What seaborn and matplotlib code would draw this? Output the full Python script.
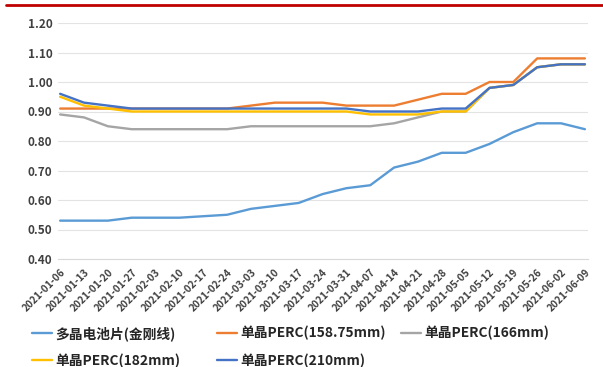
import matplotlib
matplotlib.use("Agg")
import matplotlib.pyplot as plt
from matplotlib.lines import Line2D
import pandas as pd
import seaborn as sns

# Weekly dates
dates = ["2021-01-06", "2021-01-13", "2021-01-20", "2021-01-27", "2021-02-03",
         "2021-02-10", "2021-02-17", "2021-02-24", "2021-03-03", "2021-03-10",
         "2021-03-17", "2021-03-24", "2021-03-31", "2021-04-07", "2021-04-14",
         "2021-04-21", "2021-04-28", "2021-05-05", "2021-05-12", "2021-05-19",
         "2021-05-26", "2021-06-02", "2021-06-09"]

series_names = ["多晶电池片(金刚线)", "单晶PERC(158.75mm)", "单晶PERC(166mm)",
                "单晶PERC(182mm)", "单晶PERC(210mm)"]

poly = [0.53, 0.53, 0.53, 0.54, 0.54, 0.54, 0.545, 0.55, 0.57, 0.58, 0.59, 0.62,
        0.64, 0.65, 0.71, 0.73, 0.76, 0.76, 0.79, 0.83, 0.86, 0.86, 0.84]
perc_158 = [0.91, 0.91, 0.91, 0.91, 0.91, 0.91, 0.91, 0.91, 0.92, 0.93, 0.93, 0.93,
            0.92, 0.92, 0.92, 0.94, 0.96, 0.96, 1.00, 1.00, 1.08, 1.08, 1.08]
perc_166 = [0.89, 0.88, 0.85, 0.84, 0.84, 0.84, 0.84, 0.84, 0.85, 0.85, 0.85, 0.85,
            0.85, 0.85, 0.86, 0.88, 0.90, 0.90, 0.98, 0.99, 1.05, 1.06, 1.06]
perc_182 = [0.95, 0.92, 0.91, 0.90, 0.90, 0.90, 0.90, 0.90, 0.90, 0.90, 0.90, 0.90,
            0.90, 0.89, 0.89, 0.89, 0.90, 0.90, 0.98, 0.99, 1.05, 1.06, 1.06]
perc_210 = [0.96, 0.93, 0.92, 0.91, 0.91, 0.91, 0.91, 0.91, 0.91, 0.91, 0.91, 0.91,
            0.91, 0.90, 0.90, 0.90, 0.91, 0.91, 0.98, 0.99, 1.05, 1.06, 1.06]

colors = ["#5B9BD5", "#ED7D31", "#A5A5A5", "#FFC000", "#4472C4"]
y_ticks = [0.40, 0.50, 0.60, 0.70, 0.80, 0.90, 1.00, 1.10, 1.20]

wide = pd.DataFrame(dict(zip(series_names, [poly, perc_158, perc_166, perc_182, perc_210])))
wide["date"] = dates
long = wide.melt(id_vars="date", var_name="series", value_name="price")

sns.set_style("white")
plt.rcParams["font.family"] = ["Noto Sans CJK SC", "DejaVu Sans"]

fig = plt.figure(figsize=(6.03, 3.67), dpi=100)
ax = fig.add_axes([58 / 603, 108 / 367, 530 / 603, 236 / 367])

sns.lineplot(data=long, x="date", y="price", hue="series", hue_order=series_names,
             palette=colors, sort=False, linewidth=1.7, legend=False, ax=ax)

ax.set_ylim(0.40, 1.20)
ax.set_xlim(-0.09, len(dates) - 1 + 0.13)
ax.set_yticks(y_ticks)
ax.set_yticklabels([f"{v:.2f}" for v in y_ticks], fontsize=8.5, fontweight="bold",
                   color="#404040")
ax.set_xticks(range(len(dates)))
ax.set_xticklabels(dates, rotation=45, ha="right", rotation_mode="anchor",
                   fontsize=7.3, fontweight="bold", color="#404040")
ax.set_xlabel("")
ax.set_ylabel("")

ax.grid(axis="y", color="#E3E3E3", linewidth=0.8)
ax.set_axisbelow(True)
for side in ["top", "right", "left"]:
    ax.spines[side].set_visible(False)
ax.spines["bottom"].set_color("#D9D9D9")
ax.spines["bottom"].set_linewidth(0.8)
ax.tick_params(axis="x", length=3, color="#D9D9D9", pad=3)
ax.tick_params(axis="y", length=0, pad=4)

# Red rule along the top of the figure
fig.add_artist(Line2D([6 / 603, 1.0], [1 - 5 / 367, 1 - 5 / 367],
                      color="#C00000", linewidth=2.0))

# Legend laid out in three columns
handles = [Line2D([], [], color=c, linewidth=1.7) for c in colors]
columns = [([0, 3], 32), ([1, 4], 217), ([2], 401)]
legend_kw = dict(loc="upper left", frameon=False, borderpad=0, borderaxespad=0,
                 handlelength=1.45, handletextpad=0.25, labelspacing=0.95,
                 prop={"size": 9.9, "weight": "bold",
                       "family": ["Noto Sans CJK SC", "DejaVu Sans"]},
                 labelcolor="#262626")
for idx, xpix in columns:
    fig.legend([handles[i] for i in idx], [series_names[i] for i in idx],
               bbox_to_anchor=(xpix / 603, 1 - 326 / 367), **legend_kw)

fig.savefig("out.png", dpi=100)
